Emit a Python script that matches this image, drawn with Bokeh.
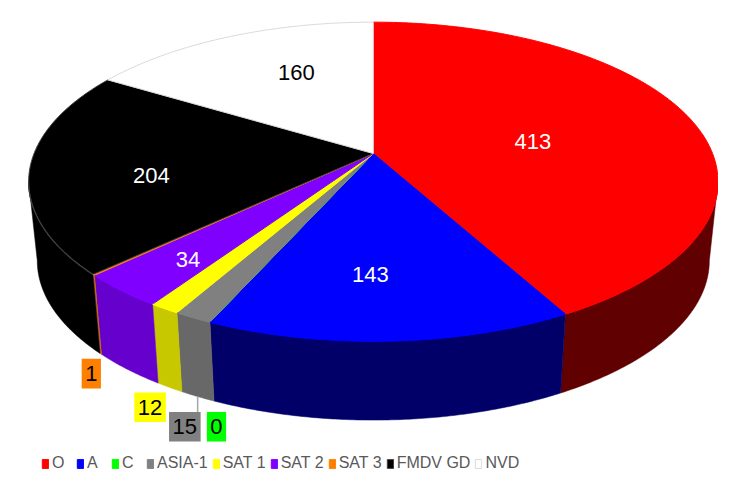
import numpy as np
from bokeh.plotting import figure
from bokeh.models import Range1d, Legend, LegendItem, ColumnDataSource
from bokeh.embed import file_html
from bokeh.resources import INLINE
from bokeh.core.properties import value

# ---------------- data ----------------
categories = ["O", "A", "C", "ASIA-1", "SAT 1", "SAT 2", "SAT 3", "FMDV GD", "NVD"]
counts = [413, 143, 0, 15, 12, 34, 1, 204, 160]
top_colors = ["#ff0000", "#0000ff", "#00ff00", "#808080", "#ffff00",
              "#8000ff", "#ff8000", "#000000", "#ffffff"]
side_colors = ["#600000", "#000068", "#00a000", "#686868", "#c8c800",
               "#6600cc", "#cc6600", "#000000", "#d0d0d0"]
edge_colors = ["#ff0000", "#0000ff", "#00ff00", "#808080", "#ffff00",
               "#8000ff", "#ff8000", "#404040", "#d9d9d9"]

# label layout: inside labels (radius fraction, angle shift) / outside (dx, dy)
label_mode = ["in", "in", "out", "out", "out", "in", "out", "in", "in"]
label_in = {"O": (0.483, 5.0), "A": (0.686, 3.0), "SAT 2": (0.781, -1.3),
            "FMDV GD": (0.653, -6.0), "NVD": (0.629, 5.9)}
label_out = {"C": (2.5, 26.0), "ASIA-1": (-13.0, 30.5), "SAT 1": (-20.0, 20.0),
             "SAT 3": (-9.6, 20.0)}
label_text_colors = ["white", "white", "black", "black", "black", "white",
                     "black", "white", "black"]
leader = {"ASIA-1"}

# ---------------- geometry (reference pixel space) ----------------
CX, CY = 378.0, 155.0
A, B, K = 344.0, 156.5, 0.176
DEPTH, SHRINK = 80.0, 0.975


def proj(theta_deg, r=1.0):
    t = np.radians(theta_deg)
    u = r * np.sin(t)
    v = r * np.cos(t)
    w = 1 + K * v
    return CX + A * u / w, CY - B * v / w


def to_bottom(x, y):
    return CX + (np.asarray(x) - CX) * SHRINK, np.asarray(y) + DEPTH


total = float(sum(counts))
cum = np.concatenate([[0], np.cumsum(counts)])
starts = cum[:-1] / total * 360.0
ends = cum[1:] / total * 360.0

vis_lo = np.degrees(np.arccos(-K))
vis_hi = 360.0 - vis_lo

top_xs, top_ys = [], []
wall_xs, wall_ys, wall_cols = [], [], []
rim_xs, rim_ys, rim_cols = [], [], []
for i, (a0, a1) in enumerate(zip(starts, ends)):
    n = max(2, int((a1 - a0) / 0.5) + 2)
    th = np.linspace(a0, a1, n)
    ax, ay = proj(th)
    top_xs.append([CX] + list(ax))
    top_ys.append([CY] + list(ay))
    b0, b1 = max(a0, vis_lo), min(a1, vis_hi)
    if b1 > b0:
        m = max(2, int((b1 - b0) / 0.5) + 2)
        tw = np.linspace(b0, b1, m)
        tx, ty = proj(tw)
        bx, by = to_bottom(tx, ty)
        wall_xs.append(list(tx) + list(bx[::-1]))
        wall_ys.append(list(ty) + list(by[::-1]))
        wall_cols.append(side_colors[i])
        rim_xs.append(list(tx))
        rim_ys.append(list(ty))
        rim_cols.append(edge_colors[i])

p = figure(width=718, height=472, output_backend="svg", toolbar_location=None,
           x_range=Range1d(0, 728), y_range=Range1d(478, 0), min_border=0)
p.axis.visible = False
p.grid.visible = False
p.outline_line_color = None
p.background_fill_color = "white"
p.border_fill_color = "white"

p.patches("xs", "ys", source=ColumnDataSource(dict(xs=wall_xs, ys=wall_ys, c=wall_cols)),
          fill_color="c", line_color="c", line_width=0.5)

top_src = ColumnDataSource(dict(xs=top_xs, ys=top_ys, c=top_colors, lc=edge_colors))
top_r = p.patches("xs", "ys", source=top_src, fill_color="c", line_color="lc", line_width=1)

p.multi_line("xs", "ys", source=ColumnDataSource(dict(xs=rim_xs, ys=rim_ys, c=rim_cols)),
             line_color="c", line_width=1.2)

# labels
in_x, in_y, in_t, in_c = [], [], [], []
box_x, box_y, box_w, box_c, box_t = [], [], [], [], []
lead_xs, lead_ys = [], []
BOX_H = 30.0
for i, cat in enumerate(categories):
    mid = (starts[i] + ends[i]) / 2.0
    txt = str(counts[i])
    if label_mode[i] == "in":
        r, dth = label_in[cat]
        x, y = proj(mid + dth, r)
        in_x.append(x); in_y.append(y); in_t.append(txt); in_c.append(label_text_colors[i])
    else:
        dx, dy = label_out[cat]
        tx, ty = proj(mid)
        bx, by = to_bottom(tx, ty)
        x, y = float(bx) + dx, float(by) + dy
        box_x.append(x); box_y.append(y); box_t.append(txt)
        box_w.append(12.5 * len(txt) + 7)
        box_c.append(top_colors[i])
        if cat in leader:
            lead_xs.append([float(bx), float(bx)])
            lead_ys.append([float(by), y - BOX_H / 2])

p.multi_line(lead_xs, lead_ys, line_color="#a6a6a6", line_width=1.5)
p.rect("x", "y", width="w", height=BOX_H,
       source=ColumnDataSource(dict(x=box_x, y=box_y, w=box_w, c=box_c)),
       fill_color="c", line_color=None)
p.text("x", "y", text="t", source=ColumnDataSource(dict(x=box_x, y=box_y, t=box_t)),
       text_align="center", text_baseline="middle", text_color="black",
       text_font=value("Liberation Sans"), text_font_size="22px")
p.text("x", "y", text="t", source=ColumnDataSource(dict(x=in_x, y=in_y, t=in_t, c=in_c)),
       text_align="center", text_baseline="middle", text_color="c",
       text_font=value("Liberation Sans"), text_font_size="22px")

items = [LegendItem(label=cat, renderers=[top_r], index=i) for i, cat in enumerate(categories)]
legend = Legend(items=items, orientation="horizontal", location=(41, 0),
                glyph_width=8, glyph_height=11, label_standoff=3, spacing=4,
                padding=0, margin=0, border_line_color=None, background_fill_alpha=0,
                label_text_font="Liberation Sans", label_text_font_size="16px",
                label_text_color="#595959")
p.add_layout(legend)

open("out.html", "w").write(file_html(p, INLINE))
